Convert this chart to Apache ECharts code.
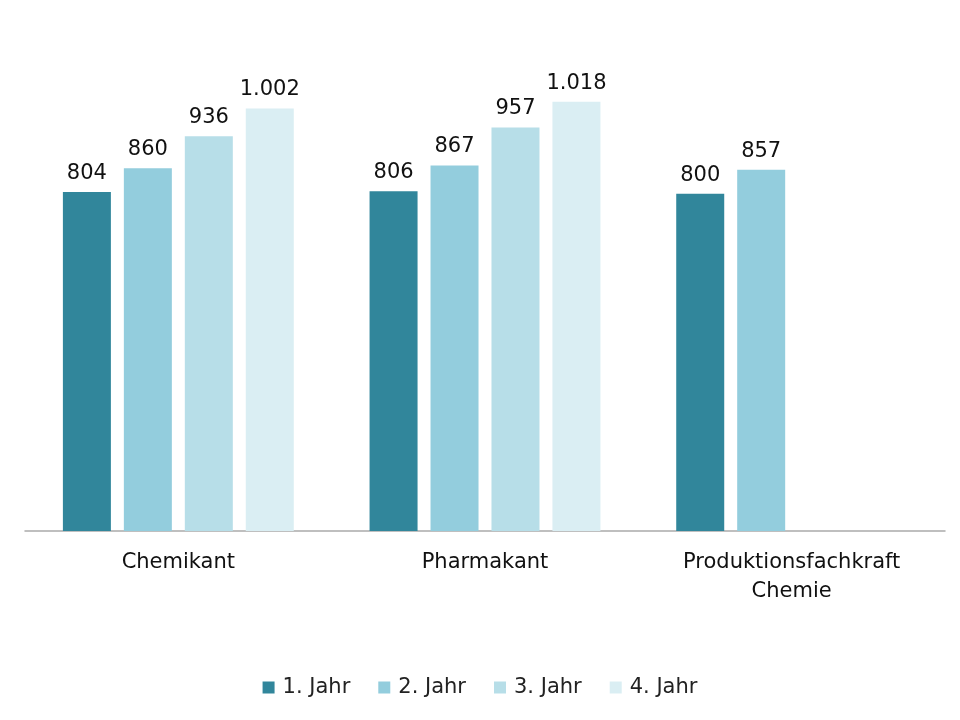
<!DOCTYPE html>
<html><head><meta charset="utf-8">
<script src="https://cdn.jsdelivr.net/npm/echarts@6/dist/echarts.min.js"></script>
<style>html,body{margin:0;padding:0;background:#fff}#c{width:960px;height:720px}</style>
</head><body><div id="c"></div>
<script>
const categories = ['Chemikant', 'Pharmakant', 'Produktionsfachkraft\nChemie'];
const seriesNames = ['1. Jahr', '2. Jahr', '3. Jahr', '4. Jahr'];
const jahr1 = [804, 806, 800];
const jahr2 = [860, 867, 857];
const jahr3 = [936, 957, null];
const jahr4 = [1002, 1018, null];
const colors = ['#31869B', '#93CDDD', '#B7DEE8', '#DAEEF3'];

const FONT = '"DejaVu Sans", sans-serif';
const fmt = v => String(v).replace(/\B(?=(\d{3})+(?!\d))/g, '.');
const chart = echarts.init(document.getElementById('c'));
const data = [jahr1, jahr2, jahr3, jahr4];
chart.setOption({
  animation: false,
  textStyle: {fontFamily: FONT},
  legend: {
    bottom: 17, left: 'center', itemWidth: 12, itemHeight: 12, itemGap: 28,
    icon: 'rect',
    textStyle: {fontSize: 21, color: '#222', fontFamily: FONT, padding: [0, 0, 0, 3]}
  },
  grid: {left: 25, right: 15, top: 25, bottom: 189},
  xAxis: {
    type: 'category', data: categories,
    axisLine: {lineStyle: {color: '#AAAAAA', width: 1.5}},
    axisTick: {show: false},
    axisLabel: {fontSize: 21, color: '#111', margin: 17, lineHeight: 29, fontFamily: FONT}
  },
  yAxis: {type: 'value', min: 0, max: 1200, show: false, splitLine: {show: false}},
  series: data.map((d, i) => ({
    name: seriesNames[i], type: 'bar', data: d, barWidth: 48, barGap: '27%',
    itemStyle: {color: colors[i]},
    label: {show: true, position: 'top', distance: 8, fontSize: 21, color: '#111', fontFamily: FONT,
      formatter: p => fmt(p.value)}
  }))
});
</script></body></html>
